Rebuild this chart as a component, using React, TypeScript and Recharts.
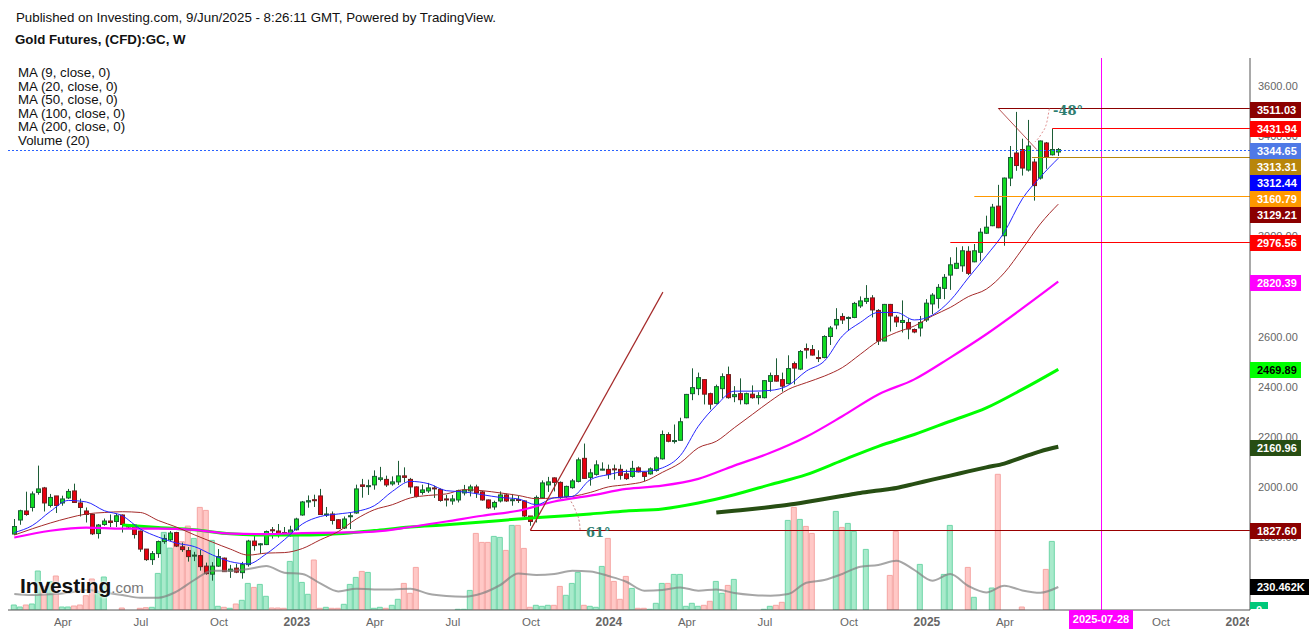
import { ComposedChart, Bar, Line, Cell, XAxis, YAxis, ReferenceLine } from "recharts";

// weekly candles, one entry per bar
const open = [
  1813, 1869, 1905, 1919, 1979, 1997, 1927, 1965, 1937, 1957, 1985, 1937, 1905, 1891, 1815, 1851, 1865, 1863, 1889, 1849,
  1849, 1825, 1753, 1711, 1735, 1783, 1790, 1819, 1762, 1747, 1726, 1727, 1685, 1653, 1685, 1717, 1665, 1677, 1659, 1691,
  1785, 1771, 1771, 1830, 1825, 1819, 1806, 1830, 1889, 1941, 1950, 1965, 1890, 1893, 1870, 1837, 1882, 1897, 2009, 2002,
  2009, 2031, 2031, 2013, 2021, 2045, 2031, 2001, 1979, 1985, 1997, 1991, 1953, 1945, 1949, 1977, 1985, 2001, 1981, 1949,
  1921, 1945, 1969, 1946, 1951, 1945, 1885, 1881, 1958, 2009, 2037, 2019, 1963, 1998, 2023, 2115, 2039, 2051, 2068, 2071,
  2073, 2071, 2053, 2043, 2077, 2059, 2053, 2067, 2113, 2210, 2184, 2187, 2277, 2373, 2393, 2429, 2373, 2334, 2393, 2449,
  2361, 2373, 2333, 2371, 2357, 2357, 2422, 2445, 2429, 2413, 2493, 2471, 2553, 2549, 2517, 2517, 2601, 2647, 2681, 2673,
  2677, 2723, 2741, 2755, 2705, 2583, 2729, 2678, 2657, 2657, 2629, 2635, 2667, 2731, 2753, 2793, 2846, 2873, 2883, 2941,
  2899, 2937, 3013, 3043, 3121, 3003, 3233, 3333, 3347, 3265, 3297, 3233, 3373, 3326, 3337,
];
const close = [
  1843, 1906, 1891, 1973, 1993, 1937, 1959, 1927, 1953, 1983, 1939, 1919, 1891, 1814, 1849, 1865, 1859, 1886, 1851, 1841,
  1811, 1753, 1711, 1735, 1783, 1795, 1817, 1765, 1751, 1723, 1729, 1683, 1655, 1685, 1723, 1663, 1673, 1661, 1691, 1785,
  1767, 1774, 1823, 1826, 1815, 1817, 1829, 1873, 1941, 1946, 1947, 1891, 1893, 1867, 1835, 1873, 1886, 1993, 2003, 2006,
  2043, 2037, 2009, 2021, 2045, 2039, 2001, 1963, 1989, 1997, 1994, 1947, 1949, 1953, 1986, 1989, 2001, 1977, 1949, 1917,
  1939, 1969, 1945, 1950, 1947, 1885, 1863, 1959, 2017, 2021, 2019, 1958, 2003, 2025, 2109, 2035, 2057, 2089, 2072, 2050,
  2070, 2047, 2034, 2075, 2061, 2043, 2073, 2117, 2210, 2183, 2186, 2261, 2370, 2397, 2437, 2371, 2331, 2401, 2441, 2357,
  2369, 2349, 2373, 2357, 2365, 2425, 2445, 2423, 2403, 2473, 2475, 2541, 2547, 2527, 2515, 2601, 2635, 2669, 2667, 2677,
  2733, 2743, 2753, 2707, 2583, 2729, 2683, 2659, 2665, 2631, 2619, 2657, 2734, 2766, 2797, 2837, 2887, 2893, 2943, 2853,
  2943, 3017, 3037, 3117, 3035, 3233, 3315, 3283, 3273, 3361, 3203, 3381, 3317, 3347, 3347,
];
const high = [
  1873, 1910, 1982, 1983, 2086, 2001, 1973, 1965, 1966, 1993, 2014, 1954, 1919, 1894, 1853, 1875, 1891, 1894, 1891, 1851,
  1851, 1827, 1753, 1745, 1787, 1811, 1825, 1822, 1779, 1761, 1742, 1750, 1699, 1701, 1753, 1719, 1690, 1694, 1702, 1790,
  1809, 1777, 1827, 1841, 1853, 1841, 1846, 1878, 1945, 1967, 1970, 1993, 1921, 1903, 1873, 1883, 1897, 2010, 2033, 2030,
  2067, 2081, 2046, 2043, 2105, 2079, 2037, 2003, 2010, 2017, 2006, 1995, 1969, 1969, 1990, 2009, 2010, 2010, 1986, 1951,
  1946, 1983, 1974, 1973, 1966, 1947, 1885, 1967, 2027, 2041, 2039, 2023, 2006, 2033, 2118, 2174, 2073, 2107, 2099, 2090,
  2090, 2090, 2070, 2105, 2083, 2063, 2079, 2123, 2226, 2219, 2250, 2277, 2372, 2474, 2457, 2431, 2377, 2409, 2454, 2481,
  2403, 2434, 2377, 2406, 2379, 2427, 2457, 2514, 2457, 2526, 2501, 2547, 2573, 2567, 2546, 2606, 2643, 2714, 2694, 2681,
  2739, 2761, 2806, 2766, 2710, 2731, 2731, 2686, 2745, 2673, 2633, 2683, 2750, 2774, 2810, 2850, 2917, 2957, 2961, 2961,
  2970, 3033, 3083, 3130, 3206, 3235, 3361, 3497, 3390, 3465, 3310, 3383, 3377, 3430, 3353,
];
const low = [
  1810, 1850, 1886, 1903, 1970, 1903, 1919, 1897, 1926, 1953, 1937, 1883, 1859, 1809, 1795, 1846, 1841, 1841, 1819, 1833,
  1795, 1742, 1706, 1690, 1718, 1774, 1785, 1761, 1742, 1703, 1705, 1667, 1651, 1627, 1682, 1662, 1638, 1657, 1635, 1683,
  1747, 1734, 1769, 1795, 1799, 1810, 1803, 1827, 1886, 1918, 1921, 1889, 1881, 1851, 1833, 1833, 1833, 1894, 1958, 1969,
  1990, 2023, 2001, 2006, 2009, 2019, 1974, 1959, 1970, 1977, 1957, 1942, 1923, 1930, 1939, 1967, 1963, 1957, 1946, 1913,
  1910, 1939, 1941, 1926, 1937, 1881, 1846, 1859, 1954, 1981, 1983, 1954, 1958, 1994, 2019, 2033, 2006, 2046, 2067, 2033,
  2030, 2030, 2029, 2038, 2059, 2023, 2050, 2062, 2110, 2179, 2174, 2187, 2275, 2347, 2367, 2330, 2310, 2330, 2354, 2353,
  2339, 2330, 2330, 2353, 2330, 2354, 2381, 2421, 2381, 2410, 2410, 2467, 2513, 2525, 2499, 2514, 2567, 2630, 2651, 2623,
  2674, 2715, 2731, 2677, 2567, 2582, 2621, 2639, 2617, 2590, 2614, 2601, 2659, 2690, 2713, 2750, 2787, 2870, 2859, 2846,
  2897, 2903, 3010, 3041, 3033, 2963, 3201, 3262, 3243, 3259, 3143, 3227, 3270, 3323, 3321,
];

// volume in thousands, one entry per bar
const volume = [
  50, 30, 50, 60, 390, 233, 283, 340, 30, 30, 40, 50, 143, 310, 167, 330, 0, 0, 20, 0,
  0, 17, 23, 27, 366, 776, 619, 686, 683, 839, 716, 1026, 996, 696, 37, 27, 17, 60, 97, 266,
  226, 256, 137, 20, 20, 17, 486, 743, 276, 157, 500, 17, 27, 17, 17, 57, 256, 326, 386, 376,
  17, 27, 17, 47, 107, 266, 167, 426, 0, 0, 0, 0, 0, 0, 7, 7, 196, 766, 676, 676,
  736, 726, 596, 846, 846, 616, 27, 47, 37, 47, 47, 236, 147, 266, 376, 47, 37, 27, 436, 716,
  286, 107, 336, 216, 17, 17, 7, 67, 266, 266, 356, 356, 37, 67, 37, 47, 87, 286, 167, 246,
  306, 0, 0, 0, 0, 7, 37, 47, 77, 896, 1026, 906, 836, 766, 0, 0, 0, 986, 826, 866,
  786, 0, 606, 0, 0, 0, 346, 786, 0, 0, 0, 456, 0, 0, 0, 356, 846, 0, 0, 426,
  127, 0, 0, 220, 1357, 0, 0, 0, 30, 0, 0, 0, 406, 686, 0,
];

// moving averages, read every third or sixth bar
const ma9 = [
  1819, 1847, 1903, 1947, 1941, 1906, 1886, 1833, 1801, 1777, 1763, 1730, 1703, 1694, 1734, 1790, 1853, 1883, 1893, 1903,
  1926, 1983, 2023, 2014, 1986, 1981, 1970, 1959, 1953, 1930, 1958, 1963, 2030, 2050, 2063, 2063, 2077, 2126, 2243, 2326,
  2383, 2383, 2386, 2406, 2463, 2503, 2603, 2657, 2697, 2697, 2667, 2686, 2745, 2835, 2923, 3017, 3150, 3237, 3312,
];
const ma20 = [
  1809, 1834, 1857, 1877, 1893, 1899, 1902, 1899, 1867, 1841, 1810, 1781, 1753, 1729, 1737, 1739, 1755, 1790, 1823, 1873,
  1910, 1930, 1957, 1967, 1973, 1990, 1986, 1977, 1967, 1954, 1957, 1963, 1979, 2001, 2010, 2023, 2059, 2097, 2157, 2183,
  2237, 2290, 2343, 2390, 2417, 2443, 2477, 2530, 2583, 2617, 2643, 2683, 2717, 2760, 2790, 2855, 2950, 3050, 3129,
];
const ma50 = [
  1799, 1826, 1839, 1835, 1835, 1830, 1815, 1813, 1817, 1819, 1823, 1841, 1863, 1886, 1906, 1943, 1966, 1993, 2006, 2033,
  2086, 2137, 2201, 2283, 2370, 2430, 2517, 2610, 2713, 2820,
];
const ma100 = [
  1849, 1839, 1830, 1814, 1809, 1809, 1814, 1827, 1841, 1850, 1861, 1873, 1883, 1893, 1905, 1913, 1937, 1970, 2010, 2050,
  2107, 2163, 2210, 2263, 2316, 2390, 2470,
];
const ma200 = [
  1899, 1906, 1913, 1921, 1930, 1941, 1953, 1965, 1977, 1987, 1997, 2013, 2030, 2046, 2063, 2079, 2094, 2119, 2143, 2161,
];
const volumeMa = [
  160, 150, 157, 173, 200, 176, 150, 123, 123, 183, 300, 393, 390, 410, 440, 373, 360, 266, 186, 213,
  206, 206, 213, 163, 140, 133, 167, 250, 366, 350, 360, 393, 386, 340, 283, 193, 200, 226, 193, 206,
  170, 150, 143, 160, 273, 300, 360, 433, 450, 493, 400, 293, 360, 240, 176, 243, 196, 173, 230,
];

const xTickBars = [8.1, 21.1, 34.1, 47.1, 60.1, 73.1, 86.1, 99.1, 112.1, 125.1, 139.1, 152.1, 165.1, 191.1, 204.1];
const xTickLabels = ["Apr", "Jul", "Oct", "2023", "Apr", "Jul", "Oct", "2024", "Apr", "Jul", "Oct", "2025", "Apr", "Oct", "2026"];
const priceTicks = [1800, 2000, 2200, 2400, 2600, 2800, 3000, 3200, 3400, 3600];
const maLegend = ["MA (9, close, 0)", "MA (20, close, 0)", "MA (50, close, 0)", "MA (100, close, 0)", "MA (200, close, 0)", "Volume (20)"];

// drawing tools on the chart, in bars and prices
const arc48Bars = [172.5, 172.1, 171.2, 170.1];
const arc48Prices = [3510, 3457, 3410, 3377];
const arc61Bars = [94.3, 94.2, 93.6, 92.6];
const arc61Prices = [1830, 1857, 1903, 1950];

const lastTagBar = 205.95;
const domainX: [number, number] = [-1.05, lastTagBar];

const seriesAt = (values: number[], start: number, step: number, i: number) => {
  if (i < start || (i - start) % step !== 0) return null;
  const v = values[(i - start) / step];
  return v === undefined ? null : v;
};

const rows = open.map((o, i) => ({
  bar: i,
  open: o,
  close: close[i],
  high: high[i],
  low: low[i],
  volume: volume[i],
  ma9: seriesAt(ma9, 0, 3, i),
  ma20: seriesAt(ma20, 0, 3, i),
  ma50: seriesAt(ma50, 0, 6, i),
  ma100: seriesAt(ma100, 18, 6, i),
  ma200: seriesAt(ma200, 117, 3, i),
  volumeMa: seriesAt(volumeMa, 0, 3, i),
}));

const arc48 = arc48Bars.map((bar, i) => ({ bar, price: arc48Prices[i] }));
const arc61 = arc61Bars.map((bar, i) => ({ bar, price: arc61Prices[i] }));

const priceTags = [
  { text: "3511.03", top: 102, bg: "#8b0000" },
  { text: "3431.94", top: 121, bg: "#ff0000" },
  { text: "3344.65", top: 143, bg: "#4f79e6" },
  { text: "3313.31", top: 159, bg: "#b8860b" },
  { text: "3312.44", top: 175, bg: "#0000ff" },
  { text: "3160.79", top: 191, bg: "#ff9800" },
  { text: "3129.21", top: 207, bg: "#8b0000" },
  { text: "2976.56", top: 235, bg: "#ff0000" },
  { text: "2820.39", top: 275, bg: "#ff00ff" },
  { text: "2469.89", top: 362, bg: "#00ff00", color: "#000" },
  { text: "2160.96", top: 440, bg: "#274e13" },
  { text: "1827.60", top: 523, bg: "#8b0000" },
  { text: "230.462K", top: 579, bg: "#000", width: 59 },
];

const Candle = (props: any) => {
  const { x, width, y, height, payload } = props;
  const cx = Math.floor(x + width / 2) + 0.5;
  const perUnit = height / (payload.high - payload.low);
  const up = payload.close >= payload.open;
  const bodyTop = y + (payload.high - Math.max(payload.open, payload.close)) * perUnit;
  const bodyH = Math.max(Math.abs(payload.close - payload.open) * perUnit, 1);
  return (
    <g>
      <line x1={cx} x2={cx} y1={y} y2={y + height} stroke="#1c5c36" strokeWidth={1} />
      <rect
        x={cx - 2}
        y={bodyTop}
        width={4}
        height={bodyH}
        fill={up ? "#10dc20" : "#e8000f"}
        stroke={up ? "#1c5c36" : "#6e2020"}
        strokeWidth={1}
      />
    </g>
  );
};

// keeps the horizontal and vertical tool lines on whole pixels
const SnappedLine = ({ x1, y1, x2, y2, stroke, strokeDasharray }: any) => {
  const snap = (v: number) => Math.floor(v) + 0.5;
  return (
    <line
      x1={x1 === x2 ? snap(x1) : x1}
      x2={x1 === x2 ? snap(x2) : x2}
      y1={y1 === y2 ? snap(y1) : y1}
      y2={y1 === y2 ? snap(y2) : y2}
      stroke={stroke}
      strokeWidth={1}
      strokeDasharray={strokeDasharray}
    />
  );
};

const XTick = ({ x, y, payload }: any) => {
  const label = xTickLabels[xTickBars.indexOf(payload.value)];
  const isYear = label.length === 4;
  return (
    <g clipPath="url(#xTickClip)">
      <text
        x={x}
        y={y + 8}
        textAnchor="middle"
        fontSize={isYear ? 12 : 11.5}
        fontWeight={isYear ? 700 : 400}
        fill="#666"
        fontFamily="Liberation Sans"
      >
        {label}
      </text>
    </g>
  );
};

const Logo = () => (
  <div style={{ position: "absolute", left: 20, top: 574, whiteSpace: "nowrap", fontFamily: "Liberation Sans", textShadow: "0 0 3px #fff, 0 0 3px #fff" }}>
    <span style={{ fontSize: 21, fontWeight: 700, color: "#111", letterSpacing: -0.1 }}>Investing</span>
    <span style={{ fontSize: 15, color: "#777" }}>.com</span>
  </div>
);

export default function App() {
  return (
    <div style={{ position: "absolute", left: 0, top: 0, width: 1316, height: 634, background: "#fff", overflow: "hidden", fontFamily: "Liberation Sans" }}>
      <ComposedChart
        width={1316}
        height={634}
        data={rows}
        margin={{ top: 58, right: 0, bottom: 0, left: 8 }}
        barCategoryGap={0}
      >
        <defs>
          <clipPath id="xTickClip">
            <rect x={0} y={600} width={1249} height={34} />
          </clipPath>
        </defs>
        <XAxis
          xAxisId="price"
          dataKey="bar"
          type="number"
          domain={domainX}
          allowDataOverflow
          ticks={xTickBars}
          tick={<XTick />}
          tickLine={false}
          axisLine={{ stroke: "#555" }}
          height={24}
          interval={0}
        />
        <XAxis xAxisId="vol" dataKey="bar" type="number" domain={domainX} allowDataOverflow hide />
        <YAxis
          yAxisId="price"
          orientation="right"
          domain={[1510, 3712]}
          allowDataOverflow
          ticks={priceTicks}
          tickFormatter={(v: number) => v.toFixed(2)}
          tick={{ fill: "#666", fontSize: 11, fontFamily: "Liberation Sans" }}
          tickLine={false}
          tickMargin={2}
          axisLine={{ stroke: "#555" }}
          width={66}
          interval={0}
        />
        <YAxis yAxisId="vol" hide domain={[0, 5520]} allowDataOverflow />

        <Bar xAxisId="vol" yAxisId="vol" dataKey="volume" barSize={5} isAnimationActive={false}>
          {rows.map((r) => (
            <Cell
              key={r.bar}
              fill={r.close >= r.open ? "#a8eacb" : "#ffc8c6"}
              stroke={r.close >= r.open ? "#6fd6a8" : "#f6a5a3"}
              strokeWidth={1}
            />
          ))}
        </Bar>

        <ReferenceLine xAxisId="price" yAxisId="price" x={181.2} stroke="#ff00ff" shape={<SnappedLine />} />

        <Line xAxisId="vol" yAxisId="vol" dataKey="volumeMa" type="monotone" stroke="#808080" strokeOpacity={0.7} strokeWidth={2} dot={false} connectNulls isAnimationActive={false} />
        <Line xAxisId="price" yAxisId="price" dataKey="ma200" type="monotone" stroke="#274e13" strokeWidth={4} dot={false} connectNulls isAnimationActive={false} />
        <Line xAxisId="price" yAxisId="price" dataKey="ma100" type="monotone" stroke="#00ff00" strokeWidth={3} dot={false} connectNulls isAnimationActive={false} />
        <Line xAxisId="price" yAxisId="price" dataKey="ma50" type="monotone" stroke="#ff00ff" strokeWidth={2.2} dot={false} connectNulls isAnimationActive={false} />
        <Line xAxisId="price" yAxisId="price" dataKey="ma20" type="monotone" stroke="#a52a2a" strokeWidth={1} dot={false} connectNulls isAnimationActive={false} />
        <Line xAxisId="price" yAxisId="price" dataKey="ma9" type="monotone" stroke="#2626ff" strokeWidth={1} dot={false} connectNulls isAnimationActive={false} />

        <Bar xAxisId="price" yAxisId="price" dataKey={(d: any) => [d.low, d.high]} barSize={6} shape={<Candle />} isAnimationActive={false} />

        <ReferenceLine xAxisId="price" yAxisId="price" y={3344.65} stroke="#2962ff" strokeDasharray="2 2" shape={<SnappedLine />} />
        <ReferenceLine xAxisId="price" yAxisId="price" segment={[{ x: 164, y: 3511.03 }, { x: lastTagBar, y: 3511.03 }]} stroke="#8b0000" shape={<SnappedLine />} />
        <ReferenceLine xAxisId="price" yAxisId="price" segment={[{ x: 164, y: 3511.03 }, { x: 170.4, y: 3347 }]} stroke="#a52a2a" strokeOpacity={0.8} />
        <ReferenceLine xAxisId="price" yAxisId="price" segment={[{ x: 173, y: 3431.94 }, { x: lastTagBar, y: 3431.94 }]} stroke="#ff0000" shape={<SnappedLine />} />
        <ReferenceLine xAxisId="price" yAxisId="price" segment={[{ x: 169.6, y: 3313.31 }, { x: lastTagBar, y: 3313.31 }]} stroke="#b8860b" shape={<SnappedLine />} />
        <ReferenceLine xAxisId="price" yAxisId="price" segment={[{ x: 160, y: 3160.79 }, { x: lastTagBar, y: 3160.79 }]} stroke="#ff9800" shape={<SnappedLine />} />
        <ReferenceLine xAxisId="price" yAxisId="price" segment={[{ x: 156, y: 2976.56 }, { x: lastTagBar, y: 2976.56 }]} stroke="#ff0000" shape={<SnappedLine />} />
        <ReferenceLine xAxisId="price" yAxisId="price" segment={[{ x: 86, y: 1827.6 }, { x: lastTagBar, y: 1827.6 }]} stroke="#990000" shape={<SnappedLine />} />
        <ReferenceLine xAxisId="price" yAxisId="price" segment={[{ x: 86, y: 1827.6 }, { x: 108.1, y: 2778 }]} stroke="#a52a2a" strokeWidth={1.2} />

        <Line xAxisId="price" yAxisId="price" data={arc48} dataKey="price" type="monotone" stroke="#e08f8f" strokeDasharray="2 2" strokeWidth={1} dot={false} isAnimationActive={false} />
        <Line xAxisId="price" yAxisId="price" data={arc61} dataKey="price" type="monotone" stroke="#c98080" strokeDasharray="2 2" strokeWidth={1} dot={false} isAnimationActive={false} />
      </ComposedChart>

      <div style={{ position: "absolute", left: 16, top: 11, fontSize: 13.3, lineHeight: "14px", color: "#111", whiteSpace: "nowrap" }}>
        Published on Investing.com, 9/Jun/2025 - 8:26:11 GMT, Powered by TradingView.
      </div>
      <div style={{ position: "absolute", left: 15, top: 33, fontSize: 13.3, lineHeight: "14px", fontWeight: 700, color: "#111", whiteSpace: "nowrap" }}>
        Gold Futures, (CFD):GC, W
      </div>
      <div style={{ position: "absolute", left: 18, top: 66, fontSize: 13.3, lineHeight: "13.6px", color: "#111", whiteSpace: "nowrap" }}>
        {maLegend.map((t) => (
          <div key={t}>{t}</div>
        ))}
      </div>

      <div style={{ position: "absolute", left: 1053, top: 103, fontSize: 13, fontWeight: 700, color: "#2e7d70", fontFamily: "DejaVu Serif" }}>-48°</div>
      <div style={{ position: "absolute", left: 586, top: 525, fontSize: 13, fontWeight: 700, color: "#2e7d70", fontFamily: "DejaVu Serif" }}>61°</div>

      {priceTags.map((t) => (
        <div
          key={t.text}
          style={{
            position: "absolute",
            left: 1250,
            top: t.top,
            width: (t.width ?? 51) - 7,
            height: 16,
            paddingLeft: 7,
            background: t.bg,
            color: t.color ?? "#fff",
            fontSize: 11,
            fontWeight: 700,
            lineHeight: "16px",
          }}
        >
          {t.text}
        </div>
      ))}
      <div style={{ position: "absolute", left: 1250, top: 602, width: 18, height: 7, background: "#00c87a", overflow: "hidden", color: "#fff", fontSize: 11, fontWeight: 700, lineHeight: "16px", textAlign: "center" }}>
        0
      </div>
      <div style={{ position: "absolute", left: 1069, top: 610, width: 64, height: 19, background: "#ff00ff", color: "#fff", fontSize: 11, fontWeight: 700, lineHeight: "19px", textAlign: "center" }}>
        2025-07-28
      </div>
      <Logo />
    </div>
  );
}
